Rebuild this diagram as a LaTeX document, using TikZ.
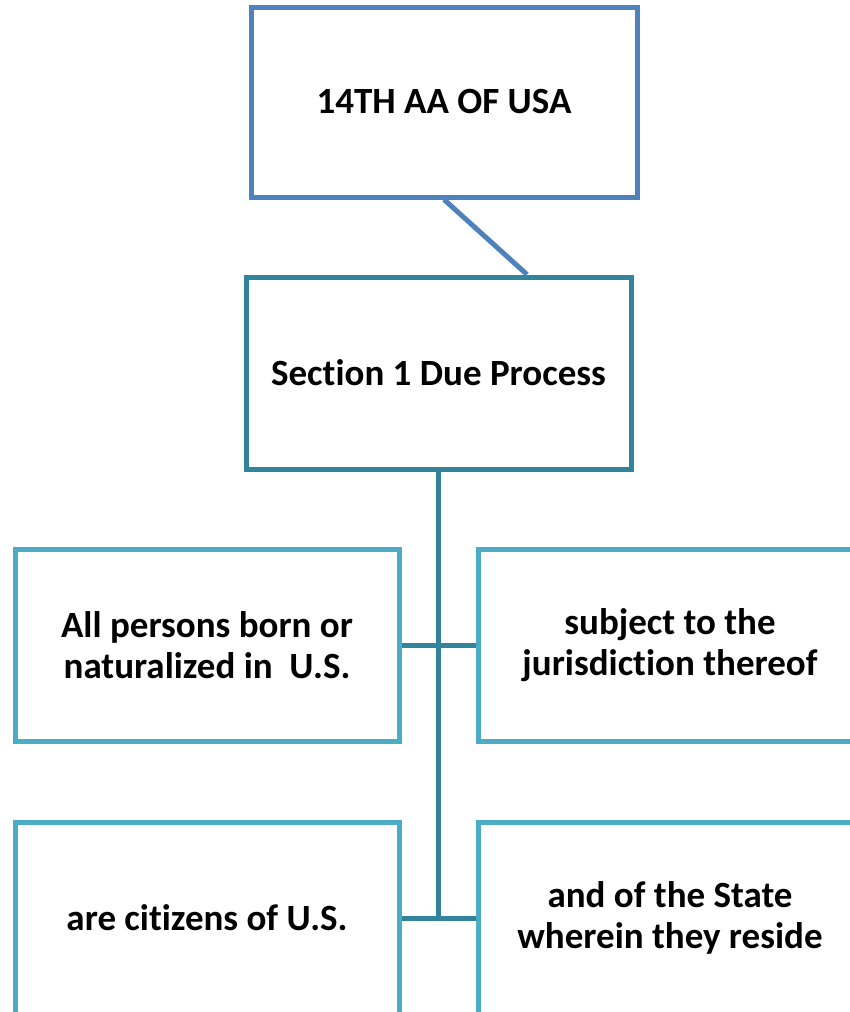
\documentclass[tikz,border=0pt]{standalone}
\usepackage{fontspec}
\setmainfont[Ligatures={NoCommon}]{Carlito}
\usetikzlibrary{calc}
\definecolor{topblue}{HTML}{4F81BD}
\definecolor{secteal}{HTML}{31849B}
\definecolor{leafblue}{HTML}{4BACC6}
\begin{document}
\begin{tikzpicture}[x=1pt,y=-1pt,
  box/.style={draw, line width=5pt, fill=white, align=center, inner sep=0pt,
    font=\fontsize{37}{41}\selectfont\bfseries},
  topbox/.style={box, draw=topblue, minimum width=386pt, minimum height=190pt},
  secbox/.style={box, draw=secteal, minimum width=385pt, minimum height=192pt},
  leafbox/.style={box, draw=leafblue, minimum width=384pt, minimum height=192pt},
  link/.style={line width=5pt}]
\useasboundingbox (0,0) rectangle (850,1012);
\node[topbox] (top) at (444,102) {14TH AA OF USA};
\node[secbox] (sec) at (438.5,373) {Section 1 Due Process};
\node[leafbox] (l1) at (207,645) {All persons born or\\naturalized in\ \ U.S.};
\node[leafbox] (r1) at (670,645) {subject to the\\jurisdiction thereof};
\node[leafbox] (l2) at (207,918) {are citizens of U.S.};
\node[leafbox] (r2) at (670,918) {and of the State\\wherein they reside};
\draw[link, draw=topblue] (top.south) -- ($(sec.north)+(88.5,0)$);
\draw[link, draw=secteal] (sec.south) -- (sec.south |- l2.east);
\draw[link, draw=secteal] (l1.east) -- (r1.west);
\draw[link, draw=secteal] (l2.east) -- (r2.west);
\end{tikzpicture}
\end{document}
